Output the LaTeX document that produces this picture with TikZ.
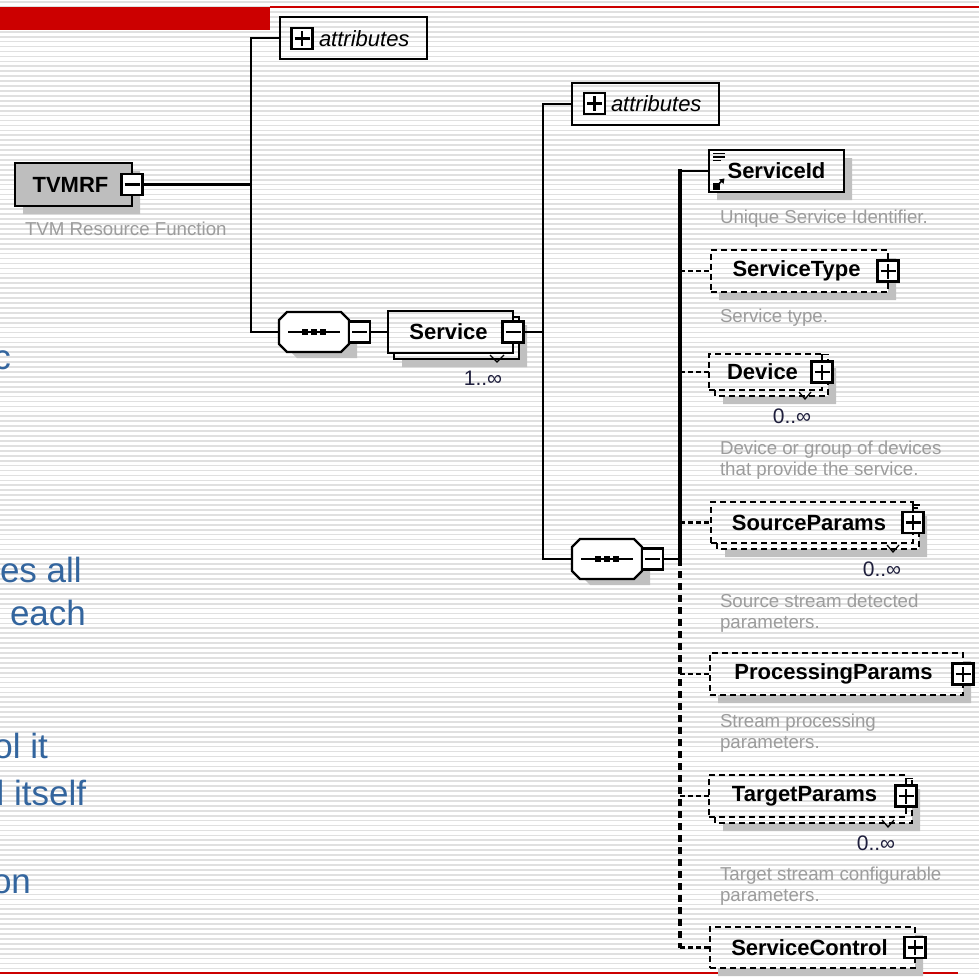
\documentclass[tikz,border=0pt]{standalone}
\usepackage{fontspec}
\setmainfont{Liberation Sans}
\definecolor{slidered}{HTML}{CC0000}
\definecolor{stripe}{HTML}{E0E0E0}
\definecolor{shd}{HTML}{C0C0C0}
\definecolor{tvgray}{HTML}{BEBEBE}
\definecolor{descgray}{HTML}{9C9C9C}
\definecolor{slideblue}{HTML}{33659E}
\definecolor{cardink}{HTML}{1E1E3C}

% shadow strip (right and bottom) of the box x1 y1 x2 y2, offset #5
\newcommand\elemshadow[5]{%
  \fill[shd] (#3,#2+#5) -- (#3+#5,#2+#5) -- (#3+#5,#4+#5) -- (#1+#5,#4+#5) -- (#1+#5,#4) -- (#3,#4) -- cycle;}
% visible edges of the second box behind a repeated element
\newcommand\backbox[5]{%
  \draw[#5] (#1+6,#4) -- (#1+6,#4+6) -- (#3+6,#4+6) -- (#3+6,#2+6) -- (#3,#2+6);}

\begin{document}
\begin{tikzpicture}[x=1pt,y=-1pt,
  every node/.style={inner sep=0pt, outer sep=0pt},
  lbl/.style={font=\fontsize{22}{24}\selectfont\bfseries},
  elemline/.style={line width=2.5pt},
  optline/.style={line width=2.5pt, dash pattern=on 6pt off 4pt},
  elem/.style={draw, elemline, lbl},
  optelem/.style={draw, optline, lbl},
  attrbox/.style={draw, line width=2.5pt},
  attrtext/.style={font=\fontsize{22}{24}\selectfont\itshape},
  pmbox/.style={draw, fill=white, line width=2.2pt, minimum size=21pt},
  minusbox/.style={pmbox, path picture={\draw[line width=2.2pt]
      ([xshift=3pt]path picture bounding box.west) -- ([xshift=-3pt]path picture bounding box.east);}},
  plusbox/.style={pmbox, path picture={\draw[line width=2.2pt]
      ([xshift=3pt]path picture bounding box.west) -- ([xshift=-3pt]path picture bounding box.east)
      ([yshift=3pt]path picture bounding box.south) -- ([yshift=-3pt]path picture bounding box.north);}},
  seqnode/.style={minimum width=70pt, minimum height=40pt},
  seqline/.style={line width=2.2pt, line join=miter},
  conn/.style={line width=2.7pt},
  trunk/.style={line width=4pt},
  optconn/.style={line width=2.5pt, dash pattern=on 5pt off 3pt},
  optrunk/.style={line width=4pt, dash pattern=on 7pt off 5pt},
  desc/.style={font=\fontsize{18.7}{21}\selectfont, text=descgray, align=left, anchor=north west},
  card/.style={font=\fontsize{21}{23}\selectfont, text=cardink},
  slidetext/.style={font=\fontsize{35}{40}\selectfont, text=slideblue, anchor=base west},
  notch/.style={line width=1.3pt}
]
\useasboundingbox (0,0) rectangle (979,977);
\fill[white] (0,0) rectangle (979,977);

% striped slide background
\foreach \k in {0,...,198} {
  \fill[stripe] (0,{2.2+4.93*\k-0.85}) rectangle (979,{2.2+4.93*\k+0.85});
}

% slide title bar and rules
\fill[slidered] (0,7) rectangle (270,29.5);
\fill[slidered] (270,6.3) rectangle (979,7.6);
\fill[slidered] (0,972.3) rectangle (958,973.6);

% slide body text running under the diagram
\begin{scope}
  \clip (0,0) rectangle (979,977);
  \node[slidetext] (b1) at (-6.5,369) {c};
  \node[slidetext] (b2) at (0,582) {es all};
  \node[slidetext] (b3) at (10,625) {each};
  \node[slidetext] (b4) at (-6.5,758) {ol it};
  \node[slidetext] (b5) at (-15,805) {d itself};
  \node[slidetext] (b6) at (-8,893) {on};
\end{scope}

% ---------- shadows ----------
\elemshadow{15}{163}{132}{206}{8}
\fill[shd] (291,352) -- (297,358) -- (357,358) -- (357,340) -- (349,332) -- (349,344) -- (341,352) -- cycle;
\elemshadow{394}{317}{519}{359}{8}
\fill[shd] (584,579) -- (590,585) -- (650,585) -- (650,567) -- (642,559) -- (642,571) -- (634,579) -- cycle;
\elemshadow{709}{150}{844}{192}{8}
\elemshadow{711}{250}{888}{292}{8}
\elemshadow{715}{360}{828}{396}{8}
\elemshadow{717}{508}{919}{549}{8}
\elemshadow{710}{653}{963}{695}{8}
\elemshadow{715}{781}{912}{823}{8}
\elemshadow{710}{927}{915}{968}{8}

% ---------- root element ----------
\node[elem, fill=tvgray, minimum width=117pt, minimum height=43pt] (tvmrf) at (73.5,184.5) {TVMRF\hspace*{6pt}};
\node[minusbox] (tvmrf-m) at (tvmrf.east) {};
\node[desc] (tvmrf-d) at (25,221.5) {TVM Resource Function};

\node[attrbox, minimum width=147pt, minimum height=42pt] (attr1) at (353.5,38) {};
\node[plusbox] (attr1-p) at (302,38.5) {};
\node[attrtext, anchor=west] (attr1-t) at (319,38.5) {attributes};

% ---------- first sequence ----------
\node[seqnode] (seq1) at (314,332) {};
\draw[seqline, fill=white] ([xshift=8pt]seq1.north west) -- ([xshift=-8pt]seq1.north east)
  -- ([yshift=-8pt]seq1.north east) -- ([yshift=8pt]seq1.south east)
  -- ([xshift=-8pt]seq1.south east) -- ([xshift=8pt]seq1.south west)
  -- ([yshift=8pt]seq1.south west) -- ([yshift=-8pt]seq1.north west) -- cycle;
\draw[line width=2pt] ([xshift=9pt]seq1.west) -- ([xshift=-9pt]seq1.east);
\foreach \dx in {-9,0,9} \fill ([xshift=\dx pt]seq1.center) +(-3,-3) rectangle +(3,3);
\node[minusbox, anchor=west] (seq1-m) at (seq1.east) {};

% ---------- Service (repeated) ----------
\backbox{388}{311}{513}{353}{elemline}
\node[elem, minimum width=125pt, minimum height=42pt] (svc) at (450.5,332) {Service\hspace*{4pt}};
\node[minusbox] (svc-m) at (svc.east) {};
\draw[notch] (490,355) -- (497,362) -- (504,355);
\node[card] (svc-c) at (483,378) {1..∞};

\node[attrbox, minimum width=147pt, minimum height=42pt] (attr2) at (645.5,104) {};
\node[plusbox] (attr2-p) at (594.5,103.5) {};
\node[attrtext, anchor=west] (attr2-t) at (611,104) {attributes};

% ---------- second sequence ----------
\node[seqnode] (seq2) at (607,559) {};
\draw[seqline, fill=white] ([xshift=8pt]seq2.north west) -- ([xshift=-8pt]seq2.north east)
  -- ([yshift=-8pt]seq2.north east) -- ([yshift=8pt]seq2.south east)
  -- ([xshift=-8pt]seq2.south east) -- ([xshift=8pt]seq2.south west)
  -- ([yshift=8pt]seq2.south west) -- ([yshift=-8pt]seq2.north west) -- cycle;
\draw[line width=2pt] ([xshift=9pt]seq2.west) -- ([xshift=-9pt]seq2.east);
\foreach \dx in {-9,0,9} \fill ([xshift=\dx pt]seq2.center) +(-3,-3) rectangle +(3,3);
\node[minusbox, anchor=west] (seq2-m) at (seq2.east) {};

% ---------- children of the sequence ----------
\node[elem, minimum width=135pt, minimum height=42pt] (sid) at (776.5,171) {ServiceId};
\draw[line width=1.5pt] (713,153.5) -- (725,153.5) (713,157) -- (725,157) (713,160.5) -- (721,160.5);
\fill (713,183) rectangle (719.5,189.5);
\draw[line width=1.6pt] (716,186.5) -- (723.5,179.5);
\fill (724.5,178.5) -- (719,179.5) -- (723.5,184) -- cycle;
\node[desc] (sid-d) at (720,209.5) {Unique Service Identifier.};

\node[optelem, minimum width=177pt, minimum height=42pt] (stype) at (799.5,271) {ServiceType\hspace*{6pt}};
\node[plusbox] (stype-p) at (stype.east) {};
\node[desc] (stype-d) at (720,308.5) {Service type.};

\backbox{709}{354}{822}{390}{optline}
\node[optelem, minimum width=113pt, minimum height=36pt] (dev) at (765.5,372) {Device\hspace*{6pt}};
\node[plusbox] (dev-p) at (dev.east) {};
\draw[notch] (dev-p.north) -- ++(0,-7) -- ++(7,0);
\draw[notch] (799,392) -- (805,399) -- (811,392);
\node[card] (dev-c) at (792,416) {0..∞};
\node[desc] (dev-d) at (720,440.5) {Device or group of devices\\that provide the service.};

\backbox{711}{502}{913}{543}{optline}
\node[optelem, minimum width=202pt, minimum height=41pt] (srcp) at (812,522.5) {SourceParams\hspace*{6pt}};
\node[plusbox] (srcp-p) at (srcp.east) {};
\draw[notch] (srcp-p.north) -- ++(0,-7) -- ++(7,0);
\draw[notch] (887,545) -- (893,552) -- (899,545);
\node[card] (srcp-c) at (882,569) {0..∞};
\node[desc] (srcp-d) at (720,593.5) {Source stream detected\\parameters.};

\node[optelem, minimum width=253pt, minimum height=42pt] (proc) at (836.5,674) {ProcessingParams\hspace*{6pt}};
\node[plusbox] (proc-p) at (proc.east) {};
\node[desc] (proc-d) at (720,713.5) {Stream processing\\parameters.};

\backbox{709}{775}{906}{817}{optline}
\node[optelem, minimum width=197pt, minimum height=42pt] (tgtp) at (807.5,796) {TargetParams\hspace*{6pt}};
\node[plusbox] (tgtp-p) at (tgtp.east) {};
\draw[notch] (tgtp-p.north) -- ++(0,-7) -- ++(7,0);
\draw[notch] (882,820) -- (888,827) -- (894,820);
\node[card] (tgtp-c) at (876,843) {0..∞};
\node[desc] (tgtp-d) at (720,866.5) {Target stream configurable\\parameters.};

\node[optelem, minimum width=205pt, minimum height=41pt] (sctl) at (812.5,947.5) {ServiceControl\hspace*{6pt}};
\node[plusbox] (sctl-p) at (sctl.east) {};

% ---------- connectors ----------
\coordinate (j1) at (251,184.5);
\coordinate (j2) at (543,332);
\coordinate (j3) at (680,559);
\draw[conn] (tvmrf-m.east) -- (j1);
\draw[conn] (attr1.west) -| (j1) |- (seq1.west);
\draw[conn] (seq1-m.east) -- (svc.west);
\draw[conn] (svc-m.east) -- (j2);
\draw[conn] (attr2.west) -| (j2) |- (seq2.west);
\draw[conn] (seq2-m.east) -- (j3);
\draw[trunk] ([yshift=-2pt]j3) -- ([yshift=2pt]j3 |- sid.west);
\draw[conn] (j3 |- sid.west) -- (sid.west);
\draw[optrunk] (j3) -- (j3 |- sctl.west);
\foreach \n in {stype,dev,srcp,proc,tgtp,sctl}
  \draw[optconn] (j3 |- \n.west) -- (\n.west);
\end{tikzpicture}
\end{document}
